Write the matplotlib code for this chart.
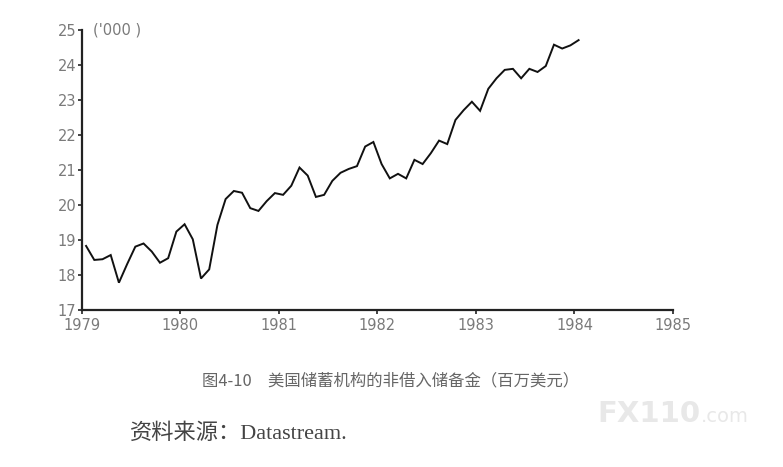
import numpy as np
import matplotlib
matplotlib.use("Agg")
import matplotlib.pyplot as plt

plt.rcParams['font.family'] = ['Noto Sans CJK SC', 'DejaVu Sans']

# monthly non-borrowed reserves, Jan 1979 - Jan 1984 ('000 million $)
reserves = [
    18.83, 18.43, 18.45, 18.57, 17.78, 18.31, 18.81, 18.90, 18.67, 18.35, 18.48, 19.24,
    19.45, 19.02, 17.90, 18.16, 19.43, 20.17, 20.40, 20.35, 19.91, 19.83, 20.11, 20.34,
    20.29, 20.55, 21.07, 20.84, 20.23, 20.29, 20.69, 20.92, 21.03, 21.11, 21.67, 21.80,
    21.17, 20.76, 20.89, 20.76, 21.29, 21.17, 21.48, 21.84, 21.74, 22.43, 22.71, 22.95,
    22.69, 23.32, 23.62, 23.86, 23.89, 23.62, 23.89, 23.80, 23.97, 24.58, 24.47, 24.56,
    24.71,
]
start_year = 1979
year_ticks = [1979, 1980, 1981, 1982, 1983, 1984, 1985]
value_ticks = [17, 18, 19, 20, 21, 22, 23, 24, 25]

caption = "图4-10　美国储蓄机构的非借入储备金（百万美元）"
source = "资料来源：Datastream."


def main():
    months = start_year + (np.arange(len(reserves)) + 0.5) / 12

    fig = plt.figure(figsize=(7.83, 4.67), dpi=100)
    ax = fig.add_axes([0.1047, 0.3362, 0.7548, 0.5996])

    ax.plot(months, reserves, color="#111111", lw=1.4, solid_joinstyle="miter")

    ax.set_xlim(1979, 1985)
    ax.set_ylim(17, 25)
    ax.set_xticks(year_ticks)
    ax.set_yticks(value_ticks)
    ax.tick_params(direction="out", length=3, width=1.2, colors="#222222",
                   labelcolor="#7a7a7a", labelsize=10.5)
    ax.tick_params(axis="x", pad=3)
    ax.tick_params(axis="y", pad=1)
    for lab in ax.get_xticklabels() + ax.get_yticklabels():
        lab.set_family("DejaVu Sans")
    for side in ["top", "right"]:
        ax.spines[side].set_visible(False)
    for side in ["left", "bottom"]:
        ax.spines[side].set_linewidth(1.6)
        ax.spines[side].set_color("#222222")

    ax.text(0.018, 1.0, "('000 )", transform=ax.transAxes, ha="left", va="center",
            fontsize=10.5, color="#7a7a7a", family="DejaVu Sans")

    fig.text(391 / 783, 1 - 381 / 467, caption, ha="center", va="center",
             fontsize=11.8, color="#666666")
    fig.text(130 / 783, 1 - 434 / 467, source, ha="left", va="center",
             fontsize=16, color="#444444",
             family=["Liberation Serif", "Noto Sans CJK SC"])

    # watermark
    fig.text(597 / 783, 1 - 414 / 467, "FX110", ha="left", va="center",
             fontsize=21, fontweight="bold", color="#e8e8e8", family="DejaVu Sans")
    fig.text(701 / 783, 1 - 417 / 467, ".com", ha="left", va="center",
             fontsize=14, color="#e8e8e8", family="DejaVu Sans")

    fig.savefig("out.png", dpi=100)


if __name__ == "__main__":
    main()
